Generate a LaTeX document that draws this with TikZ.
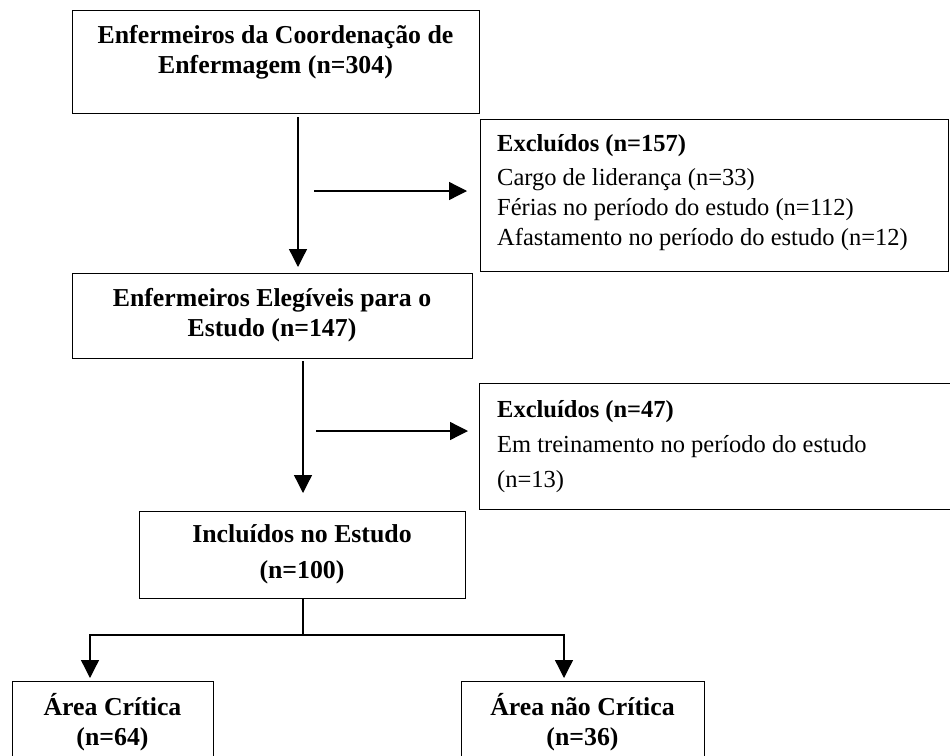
\documentclass[tikz,border=0pt]{standalone}
\usepackage{fontspec}
\setmainfont{Liberation Serif}
\usetikzlibrary{arrows.meta,calc}

\tikzset{
  box/.style={draw, line width=1.3pt, anchor=north west, inner sep=0pt},
  flow/.style={line width=1.3pt, -{Triangle[length=18pt,width=18pt]}},
  title/.style={align=center, inner sep=0pt, font=\fontsize{25.8}{30}\bfseries\selectfont},
  list/.style={align=left, anchor=north west, inner sep=0pt, font=\fontsize{24.5}{30}\selectfont},
}

\begin{document}
\begin{tikzpicture}[x=1pt,y=-1pt]

\clip (0,0) rectangle (950,755);

% caixas
\node[box, minimum width=407pt, minimum height=103pt] (coord) at (72,10) {};
\node[box, minimum width=468pt, minimum height=152pt] (excl1) at (480,119) {};
\node[box, minimum width=400pt, minimum height=85pt] (elig) at (72,273) {};
\node[box, minimum width=471pt, minimum height=126pt] (excl2) at (479,383) {};
\node[box, minimum width=326pt, minimum height=87pt] (incl) at (139,511) {};
\node[box, minimum width=201pt, minimum height=90pt] (critica) at (12,681) {};
\node[box, minimum width=243pt, minimum height=90pt] (naocritica) at (461,681) {};

% textos
\node[title] (coordtxt) at (275.5,52) {Enfermeiros da Coordenação de\\Enfermagem (n=304)};
\node[title] (eligtxt) at (272,315.5) {Enfermeiros Elegíveis para o\\Estudo (n=147)};
\node[title, font=\fontsize{25.8}{36}\bfseries\selectfont] (incltxt) at (302,554) {Incluídos no Estudo\\(n=100)};
\node[title] (criticatxt) at (112.5,722) {Área Crítica\\(n=64)};
\node[title] (naocriticatxt) at (582.5,722) {Área não Crítica\\(n=36)};
\node[list] (excl1txt) at (497,134) {\textbf{Excluídos (n=157)}\\[4pt]Cargo de liderança (n=33)\\Férias no período do estudo (n=112)\\Afastamento no período do estudo (n=12)};
\node[list, font=\fontsize{24.5}{35}\selectfont] (excl2txt) at (497,400) {\textbf{Excluídos (n=47)}\\Em treinamento no período do estudo\\(n=13)};

% setas
\coordinate (v1) at (298,0);
\coordinate (v2) at (303,0);
\coordinate (h1) at (314,191);
\coordinate (h2) at (316,431);
\coordinate (ramo) at (303,635);
\coordinate (esq) at (90,635);
\coordinate (dir) at (564,635);

\draw[flow, shorten <=3pt, shorten >=6pt] (coord.south -| v1) -- (elig.north -| v1);
\draw[flow, shorten >=13pt] (h1) -- (h1 -| excl1.west);
\draw[flow, shorten <=2pt, shorten >=18pt] (elig.south -| v2) -- (incl.north -| v2);
\draw[flow, shorten >=11pt] (h2) -- (h2 -| excl2.west);
\draw[line width=1.3pt] (incl.south -| ramo) -- (ramo);
\draw[flow, shorten >=3pt] (ramo) -- (esq) -- (esq |- critica.north);
\draw[flow, shorten >=3pt] (ramo) -- (dir) -- (dir |- naocritica.north);

\end{tikzpicture}
\end{document}
